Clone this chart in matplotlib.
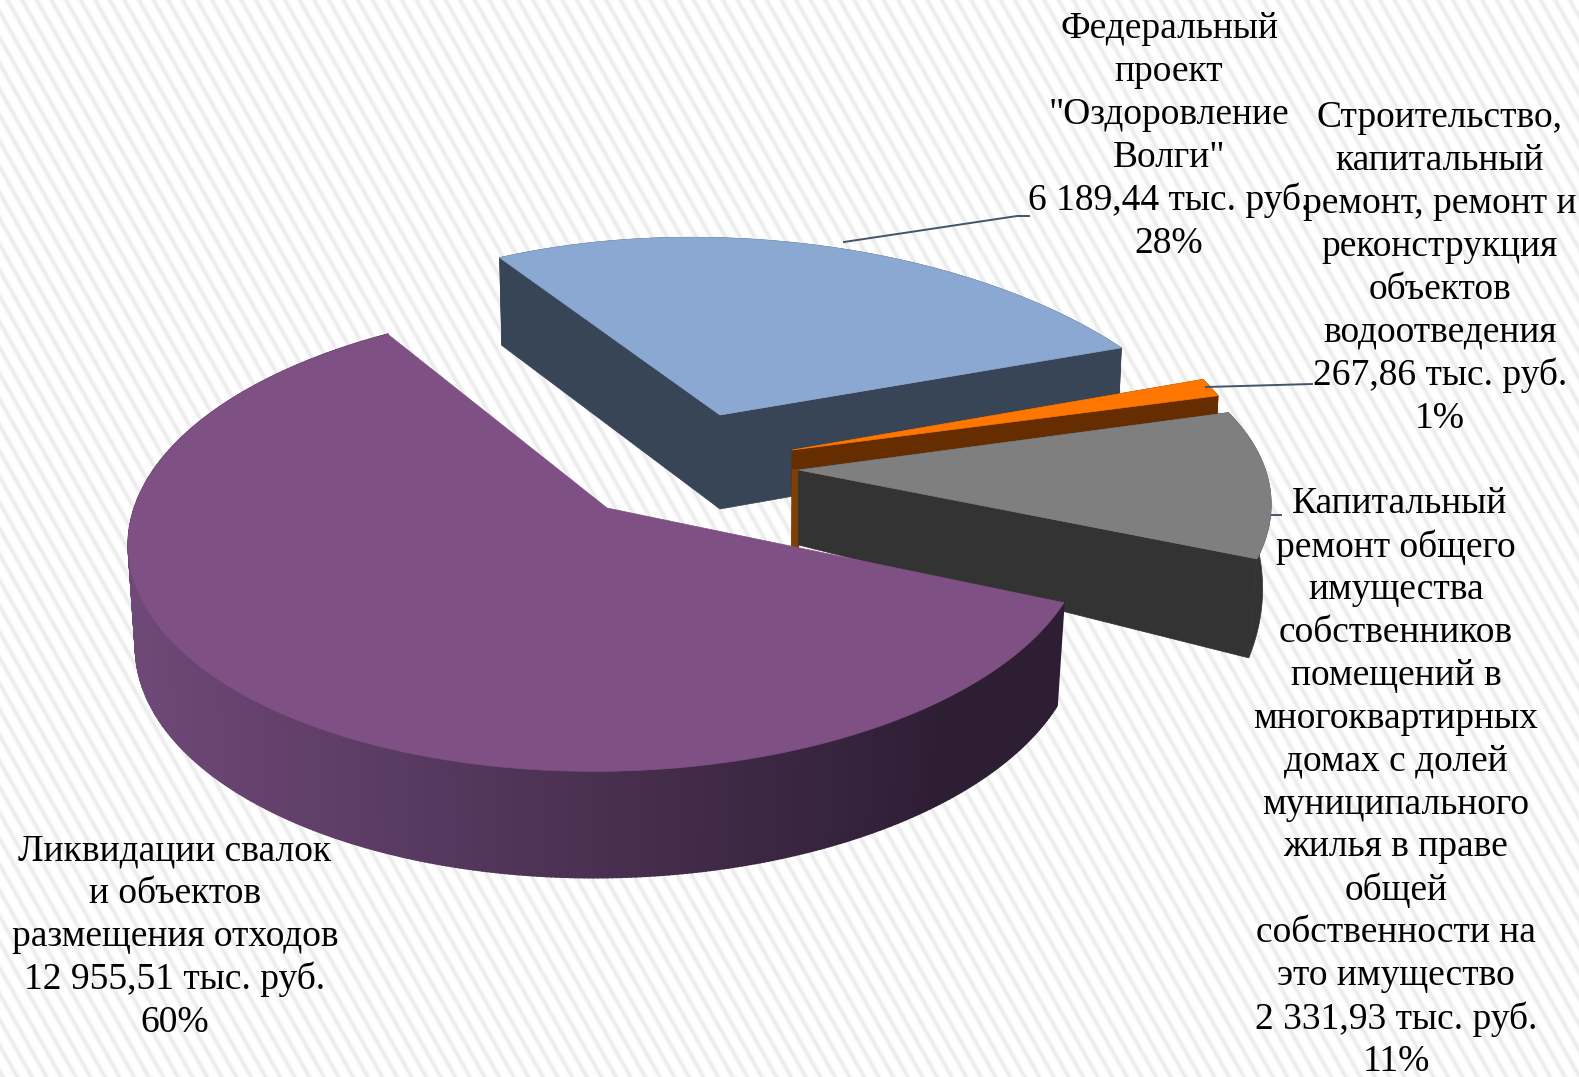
import numpy as np
import matplotlib
matplotlib.use("Agg")
import matplotlib.pyplot as plt
from matplotlib.colors import to_rgb

W, H = 1579, 1077

# values in thousand rubles, clockwise from the first slice
names = ["Ликвидации свалок", "Федеральный проект", "Строительство", "Капитальный ремонт"]
values = [12955.51, 6189.44, 267.86, 2331.93]

labels = [
    ["Ликвидации свалок", "и объектов", "размещения отходов", "12 955,51 тыс. руб.", "60%"],
    ["Федеральный", "проект", "\"Оздоровление", "Волги\"", "6 189,44 тыс. руб.", "28%"],
    ["Строительство,", "капитальный", "ремонт, ремонт и", "реконструкция", "объектов",
     "водоотведения", "267,86 тыс. руб.", "1%"],
    ["Капитальный", "ремонт общего", "имущества", "собственников", "помещений в",
     "многоквартирных", "домах с долей", "муниципального", "жилья в праве", "общей",
     "собственности на", "это имущество", "2 331,93 тыс. руб.", "11%"],
]

# label placement: centre x, centre y of first line
label_pos = [(175, 851), (1169, 29), (1440, 118), (1396, 504)]
LINE_STEP = 42.9

START_ANGLE = 115
top_colors = ["#7F5083", "#8AA8D2", "#FF7700", "#7F7F7F"]
side_colors = [None, "#374556", "#662E00", "#333333"]

# perspective of each exploded slice
geom = [
    dict(ax=607, ay=508, a=475, b=229, k=0.13, s=-3, t=-8, depth=101, sx=0.985, sy=1.02),
    dict(ax=720, ay=415, a=475, b=231, k=0.30, s=-42, t=-2, depth=94, sx=0.99, sy=1.04),
    dict(ax=792, ay=450, a=459, b=242, k=0.20, s=0, t=0, depth=92, sx=0.99, sy=1.0),
    dict(ax=798.6, ay=470, a=463, b=214, k=0.20, s=0, t=-10, depth=75, sx=0.982, sy=1.27),
]


def project(phi, g):
    x = np.sin(np.radians(phi))
    y = np.cos(np.radians(phi))
    w = 1 + g["k"] * y
    return (g["a"] * x + g["s"] * y) / w, (g["t"] * x - g["b"] * y) / w


def lower(dx, dy, g):
    return g["ax"] + g["sx"] * dx, g["ay"] + g["depth"] + g["sy"] * dy


def draw_slice(ax, start, sweep, g, top, side, shaded=False):
    phi = np.linspace(start, start + sweep, max(int(sweep * 2), 12))
    dx, dy = project(phi, g)
    tx, ty = g["ax"] + dx, g["ay"] + dy
    bx, by = lower(dx, dy, g)
    if shaded:
        # the big slice has a rim that darkens to the right
        c0 = np.array(to_rgb("#6E4877"))
        c1 = np.array(to_rgb("#2E1E34"))
        for i in range(len(phi) - 1):
            f = np.clip((tx[i] - 140) / 800, 0, 1)
            col = c0 + (c1 - c0) * f
            ax.fill([tx[i], tx[i + 1], bx[i + 1], bx[i]], [ty[i], ty[i + 1], by[i + 1], by[i]],
                    color=col, lw=1.2, zorder=2)
    else:
        # both cut faces, then the rim
        for i in (0, -1):
            ax.fill([g["ax"], tx[i], bx[i], g["ax"]], [g["ay"], ty[i], by[i], g["ay"] + g["depth"]],
                    color=side, lw=0.5, zorder=2)
        ax.fill(np.r_[tx, bx[::-1]], np.r_[ty, by[::-1]], color=side, lw=0.5, zorder=2)
    ax.fill(np.r_[g["ax"], tx], np.r_[g["ay"], ty], color=top, lw=0.5, zorder=2)


fig = plt.figure(figsize=(W / 100, H / 100), dpi=100)
ax = fig.add_axes([0, 0, 1, 1])
ax.set_xlim(0, W)
ax.set_ylim(H, 0)
ax.axis("off")

# striped paper background
yy, xx = np.mgrid[0:H, 0:W]
phase = ((xx - yy / 1.77) % 14.6) / 14.6
stripe = np.exp(-((phase - 0.5) / 0.18) ** 2)
ax.imshow(1 - 0.08 * stripe, cmap="gray", vmin=0, vmax=1, extent=(0, W, H, 0), aspect="auto", zorder=0)

shares = np.array(values) / sum(values) * 360
starts = START_ANGLE + np.r_[0, np.cumsum(shares)[:-1]]

# back to front
for i in [1, 2]:
    draw_slice(ax, starts[i], shares[i], geom[i], top_colors[i], side_colors[i])
# lit sliver of the orange slice next to the gray one
g = geom[2]
ax.fill([g["ax"], g["ax"] + 7, g["ax"] + 7, g["ax"] - 1],
        [g["ay"] + 19, g["ay"] + 19, g["ay"] + g["depth"] + 6, g["ay"] + g["depth"] + 6],
        color="#7F3F00", lw=0, zorder=2)
draw_slice(ax, starts[3], shares[3], geom[3], top_colors[3], side_colors[3])
draw_slice(ax, starts[0], shares[0], geom[0], top_colors[0], None, shaded=True)

# leader lines
leader = "#44546A"
ax.plot([844, 1017, 1029], [242, 216, 216], color=leader, lw=1.4, zorder=3)
ax.plot([1206, 1312], [387, 384], color=leader, lw=1.4, zorder=3)
ax.plot([1268, 1269, 1281], [485, 515, 515], color=leader, lw=1.4, zorder=1)

for lines, (cx, cy) in zip(labels, label_pos):
    for n, line in enumerate(lines):
        # the first line of the long label sits slightly to the right
        shift = 4 if cx == 1396 and n == 0 else 0
        ax.text(cx + shift, cy + n * LINE_STEP, line, ha="center", va="center", color="black",
                family="Liberation Serif", fontsize=27.0, zorder=4)

fig.savefig("out.png", dpi=100)
